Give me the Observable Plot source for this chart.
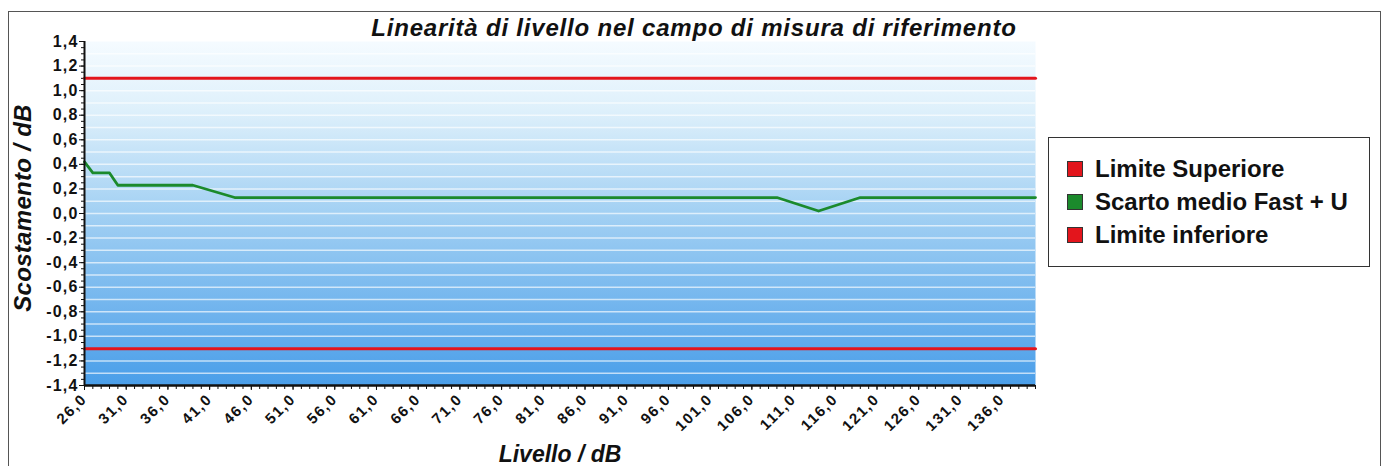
<!DOCTYPE html>
<html>
<head>
<meta charset="utf-8">
<script src="https://cdn.jsdelivr.net/npm/d3@7"></script>
<script src="https://cdn.jsdelivr.net/npm/@observablehq/plot@0.6"></script>
<style>
  html, body { margin: 0; padding: 0; background: #fff; }
  #wrap { position: relative; width: 1388px; height: 466px; overflow: hidden; font-family: "Liberation Sans", Arial, sans-serif; }
  #frame { position: absolute; left: 8px; top: 11px; width: 1373px; height: 470px; border: 1.5px solid #555; box-sizing: border-box; }
  #chart { position: absolute; left: 0; top: 0; }
  #chart svg [aria-label="y-axis tick label"] { letter-spacing: 1.2px; }
  #chart svg [aria-label="x-axis tick label"] { letter-spacing: 1.6px; }
  #title { position: absolute; left: 0; width: 1388px; top: 14px; text-align: center; font-weight: bold; font-style: italic; font-size: 24px; letter-spacing: 0.8px; color: #111; }
  #ytitle { position: absolute; left: 23px; top: 208px; transform: translate(-50%, -50%) rotate(-90deg); white-space: nowrap; font-weight: bold; font-style: italic; font-size: 24px; letter-spacing: 0.3px; color: #111; }
  #xtitle { position: absolute; left: 560px; top: 441px; transform: translateX(-50%); white-space: nowrap; font-weight: bold; font-style: italic; font-size: 23px; color: #111; }
  #legend { position: absolute; left: 1048px; top: 137px; width: 322px; height: 130px; border: 1.5px solid #333; box-sizing: border-box; background: #fff; padding-top: 14px; padding-left: 18px; }
  .item { display: flex; align-items: center; height: 33px; font-weight: bold; font-size: 24px; color: #111; white-space: nowrap; }
  .sw { width: 16px; height: 16px; border: 1px solid #333; margin-right: 12px; flex: none; box-sizing: border-box; }
</style>
</head>
<body>
<div id="wrap">
  <div id="frame"></div>
  <div id="chart"></div>
  <div id="title"></div>
  <div id="ytitle"></div>
  <div id="xtitle"></div>
  <div id="legend"></div>
</div>
<script>
// ---- data ----
const titleText = "Linearità di livello nel campo di misura di riferimento";
const xTitle = "Livello / dB";
const yTitle = "Scostamento / dB";

const levels = [26, 27, 29, 30, 39, 44, 109, 114, 119, 140];
const scarto = [0.42, 0.33, 0.33, 0.23, 0.23, 0.13, 0.13, 0.02, 0.13, 0.13];

const limitLevels = [26, 140];
const limiteSuperiore = [1.1, 1.1];
const limiteInferiore = [-1.1, -1.1];

const xTicks = [26, 31, 36, 41, 46, 51, 56, 61, 66, 71, 76, 81, 86, 91, 96, 101, 106, 111, 116, 121, 126, 131, 136];
const xMinorTicks = d3.range(26, 141, 1);
const yTicks = [1.4, 1.2, 1.0, 0.8, 0.6, 0.4, 0.2, 0.0, -0.2, -0.4, -0.6, -0.8, -1.0, -1.2, -1.4];
const yMinorTicks = d3.range(-28, 29, 1).map(d => d * 0.05);
const stripes = d3.range(-13, 14, 1).map(d => d * 0.1);

const seriesNames = ["Limite Superiore", "Scarto medio Fast + U", "Limite inferiore"];
const seriesColors = ["#e3151c", "#1b8a2c", "#e3151c"];

// ---- tables ----
const green = levels.map((x, i) => ({x, y: scarto[i]}));
const upper = limitLevels.map((x, i) => ({x, y: limiteSuperiore[i]}));
const lower = limitLevels.map((x, i) => ({x, y: limiteInferiore[i]}));

const fmt = d => d.toFixed(1).replace(".", ",");

const chart = Plot.plot({
  width: 1388,
  height: 466,
  marginLeft: 84,
  marginRight: 353,
  marginTop: 41,
  marginBottom: 81,
  style: {fontFamily: "'Liberation Sans', Arial, sans-serif", fontWeight: "bold", color: "#111", background: "transparent", overflow: "visible"},
  x: {domain: [26, 140], label: null},
  y: {domain: [-1.4, 1.4], label: null},
  marks: [
    Plot.frame({fill: "url(#bgGrad)", stroke: null}),
    Plot.ruleY(stripes, {stroke: "#ffffff", strokeOpacity: 0.65, strokeWidth: 1.5}),
    Plot.axisY({ticks: yMinorTicks, tickSize: 3, fill: "none", stroke: "#111"}),
    Plot.axisY({ticks: yTicks, tickSize: 5, tickPadding: 1, tickFormat: fmt, fontSize: 16, stroke: "#111"}),
    Plot.axisX({ticks: xMinorTicks, tickSize: 4, fill: "none", stroke: "#111"}),
    Plot.axisX({ticks: xTicks, tickSize: 5, tickPadding: 6, tickRotate: -45, tickFormat: fmt, fontSize: 15, stroke: "#111"}),
    Plot.line(upper, {x: "x", y: "y", stroke: seriesColors[0], strokeWidth: 3}),
    Plot.line(lower, {x: "x", y: "y", stroke: seriesColors[2], strokeWidth: 3}),
    Plot.line(green, {x: "x", y: "y", stroke: seriesColors[1], strokeWidth: 2.8}),
    Plot.ruleX([26], {stroke: "#111", strokeWidth: 2}),
    Plot.ruleY([-1.4], {stroke: "#111", strokeWidth: 2.5})
  ]
});

const svg = d3.select(chart);
const defs = svg.insert("defs", ":first-child");
const grad = defs.append("linearGradient").attr("id", "bgGrad").attr("x1", 0).attr("y1", 0).attr("x2", 0).attr("y2", 1);
grad.append("stop").attr("offset", "0%").attr("stop-color", "#f5fbff");
grad.append("stop").attr("offset", "20%").attr("stop-color", "#def0fb");
grad.append("stop").attr("offset", "50%").attr("stop-color", "#a2d0f3");
grad.append("stop").attr("offset", "100%").attr("stop-color", "#4a9ee9");

document.getElementById("chart").appendChild(chart);
document.getElementById("title").textContent = titleText;
document.getElementById("ytitle").textContent = yTitle;
document.getElementById("xtitle").textContent = xTitle;

const legend = document.getElementById("legend");
seriesNames.forEach((name, i) => {
  const it = document.createElement("div");
  it.className = "item";
  const sw = document.createElement("span");
  sw.className = "sw";
  sw.style.background = seriesColors[i];
  const t = document.createElement("span");
  t.textContent = name;
  it.appendChild(sw);
  it.appendChild(t);
  legend.appendChild(it);
});
</script>
</body>
</html>
